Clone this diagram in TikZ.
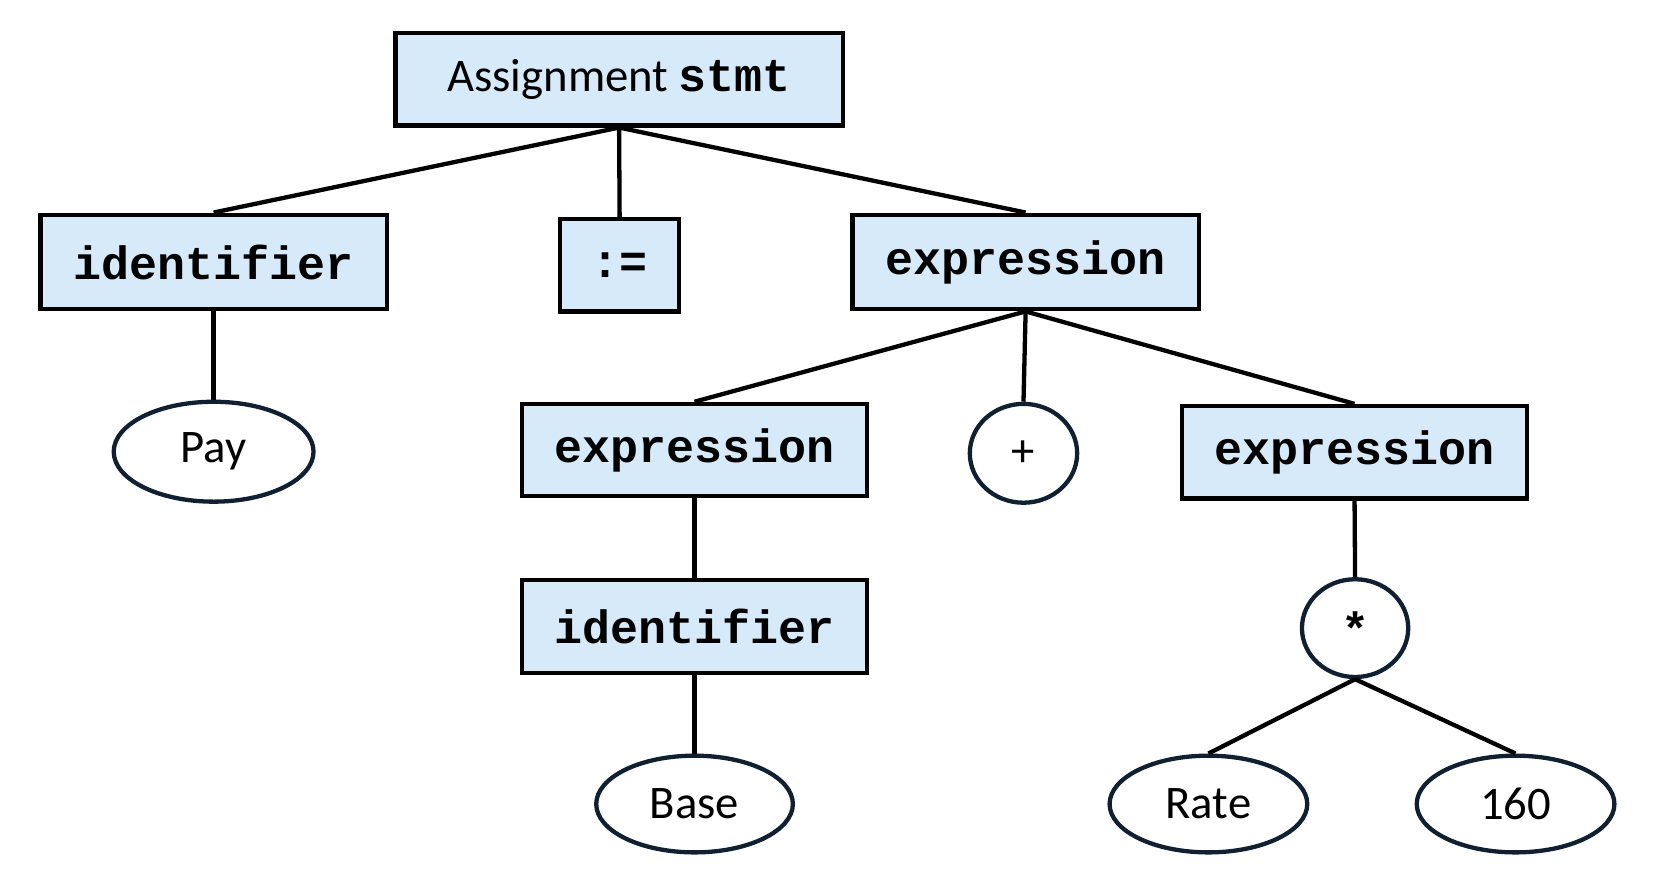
\documentclass[tikz,border=0pt]{standalone}
\usepackage{fontspec}
\setmainfont{Carlito}
\newfontfamily\cmono{Liberation Mono}
\usetikzlibrary{shapes.geometric}
\definecolor{boxfill}{HTML}{D6EAFA}
\definecolor{ring}{HTML}{102030}
\begin{document}
\begin{tikzpicture}[x=0.02cm,y=-0.02cm,
  box/.style={draw=black,fill=boxfill,line width=2.3pt,inner sep=0pt,font=\cmono\bfseries\fontsize{25}{28}\selectfont},
  ell/.style={ellipse,draw=ring,line width=2.3pt,inner sep=0pt,font=\fontsize{25}{28}\selectfont},
  edge/.style={line width=2.3pt}]
\useasboundingbox (0,0) rectangle (1560,839);
\node[box,minimum width=421*0.02cm,minimum height=87*0.02cm,font=\fontsize{25}{28}\selectfont] (root) at (582.5,74.5) {Assignment {\cmono\bfseries\fontsize{25}{28}\selectfont stmt}};
\node[box,minimum width=326*0.02cm,minimum height=89*0.02cm] (id1) at (201,246.5) {identifier};
\node[box,minimum width=112*0.02cm,minimum height=87*0.02cm] (as) at (583,249.5) {:=};
\node[box,minimum width=326*0.02cm,minimum height=89*0.02cm] (e1) at (965,246.5) {expression};
\node[box,minimum width=325*0.02cm,minimum height=87*0.02cm] (e2) at (653.5,423.5) {expression};
\node[box,minimum width=325*0.02cm,minimum height=87*0.02cm] (e3) at (1274.5,425.5) {expression};
\node[box,minimum width=325*0.02cm,minimum height=87*0.02cm] (id2) at (653.5,589.5) {identifier};
\node[ell,minimum width=101*0.02cm,minimum height=93*0.02cm] (plus) at (963,426.5) {+};
\node[ell,minimum width=100*0.02cm,minimum height=92*0.02cm,font=\cmono\bfseries\fontsize{25}{28}\selectfont] (star) at (1275,591) {*};
\node[ell,minimum width=188*0.02cm,minimum height=94*0.02cm] (pay) at (201,425) {Pay};
\node[ell,minimum width=185*0.02cm,minimum height=91*0.02cm] (base) at (653.5,756.5) {Base};
\node[ell,minimum width=186*0.02cm,minimum height=91*0.02cm] (rate) at (1137,756.5) {Rate};
\node[ell,minimum width=186*0.02cm,minimum height=91*0.02cm] (n160) at (1426,756.5) {160};
\draw[edge] (root.south) -- (id1.north);
\draw[edge] (root.south) -- (as.north);
\draw[edge] (root.south) -- (e1.north);
\draw[edge] (id1.south) -- (pay.north);
\draw[edge] (e1.south) -- (e2.north);
\draw[edge] (e1.south) -- (plus.north);
\draw[edge] (e1.south) -- (e3.north);
\draw[edge] (e2.south) -- (id2.north);
\draw[edge] (id2.south) -- (base.north);
\draw[edge] (e3.south) -- (star.north);
\draw[edge] (star.south) -- (rate.north);
\draw[edge] (star.south) -- (n160.north);
\end{tikzpicture}
\end{document}
